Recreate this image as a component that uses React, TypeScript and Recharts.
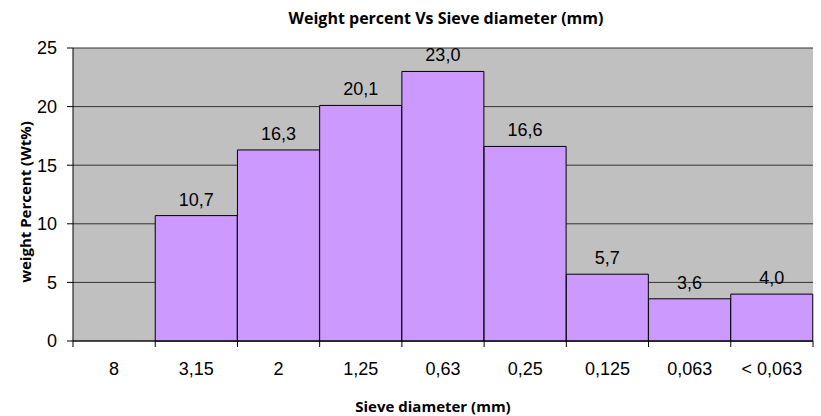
import { BarChart, Bar, XAxis, YAxis, CartesianGrid, LabelList } from "recharts";

const sieves = ["8", "3,15", "2", "1,25", "0,63", "0,25", "0,125", "0,063", "< 0,063"];
const weights = [0.0, 10.7, 16.3, 20.1, 23.0, 16.6, 5.7, 3.6, 4.0];
const yTicks = [0, 5, 10, 15, 20, 25];

const data = sieves.map((s, i) => ({ sieve: s, wt: weights[i] }));

const W = 821;
const H = 416;
const margin = { top: 48, right: 8, bottom: 45, left: 0 };
const yAxisWidth = 73;

const numFont = "Arial, 'Liberation Sans', sans-serif";
const titleFont = "'Open Sans', sans-serif";

const fmt = (v: number) => v.toFixed(1).replace(".", ",");

const SieveTick = (props: any) => {
  const { x, y, payload, index } = props;
  const half = payload?.offset ?? (W - margin.right - yAxisWidth) / sieves.length / 2;
  return (
    <g>
      <line x1={x - half} y1={y} x2={x - half} y2={y + 6} stroke="#000" />
      {index === sieves.length - 1 && (
        <line x1={x + half} y1={y} x2={x + half} y2={y + 6} stroke="#000" />
      )}
      <text x={x} y={y + 34} textAnchor="middle" fontSize={18} fontFamily={numFont} fill="#000">
        {payload.value}
      </text>
    </g>
  );
};

export default function App() {
  return (
    <div style={{ position: "absolute", left: 0, top: 0, width: W, height: H, background: "#fff" }}>
      <div
        style={{
          position: "absolute",
          left: 0,
          width: 892,
          top: 7,
          textAlign: "center",
          fontFamily: titleFont,
          fontWeight: 700,
          fontSize: 16,
          lineHeight: "22px",
        }}
      >
        Weight percent Vs Sieve diameter (mm)
      </div>
      <BarChart width={W} height={H} data={data} margin={margin} barCategoryGap={0}>
        <CartesianGrid vertical={false} fill="#C0C0C0" stroke="#333" strokeOpacity={1} />
        <XAxis
          dataKey="sieve"
          height={30}
          tickSize={0}
          tickMargin={0}
          tickLine={false}
          axisLine={{ stroke: "#000" }}
          tick={<SieveTick />}
          interval={0}
        />
        <YAxis
          width={yAxisWidth}
          domain={[0, 25]}
          ticks={yTicks}
          tickSize={6}
          tickMargin={10}
          axisLine={{ stroke: "#000" }}
          tickLine={{ stroke: "#000" }}
          tick={{ fill: "#000", fontSize: 18, fontFamily: numFont }}
        />
        <Bar dataKey="wt" fill="#CC99FF" stroke="#000" strokeWidth={1} isAnimationActive={false}>
          <LabelList
            dataKey="wt"
            position="top"
            offset={10}
            formatter={(v: any) => fmt(Number(v))}
            style={{ fill: "#000", fontSize: 18, fontFamily: numFont }}
          />
        </Bar>
      </BarChart>
      <div
        style={{
          position: "absolute",
          left: 0,
          width: 866,
          top: 396,
          textAlign: "center",
          fontFamily: titleFont,
          fontWeight: 700,
          fontSize: 15,
          lineHeight: "20px",
        }}
      >
        Sieve diameter (mm)
      </div>
      <div
        style={{
          position: "absolute",
          left: 25,
          top: 202,
          transform: "translate(-50%, -50%) rotate(-90deg)",
          whiteSpace: "nowrap",
          fontFamily: titleFont,
          fontWeight: 700,
          fontSize: 15,
          lineHeight: "18px",
        }}
      >
        weight Percent (Wt%)
      </div>
    </div>
  );
}
